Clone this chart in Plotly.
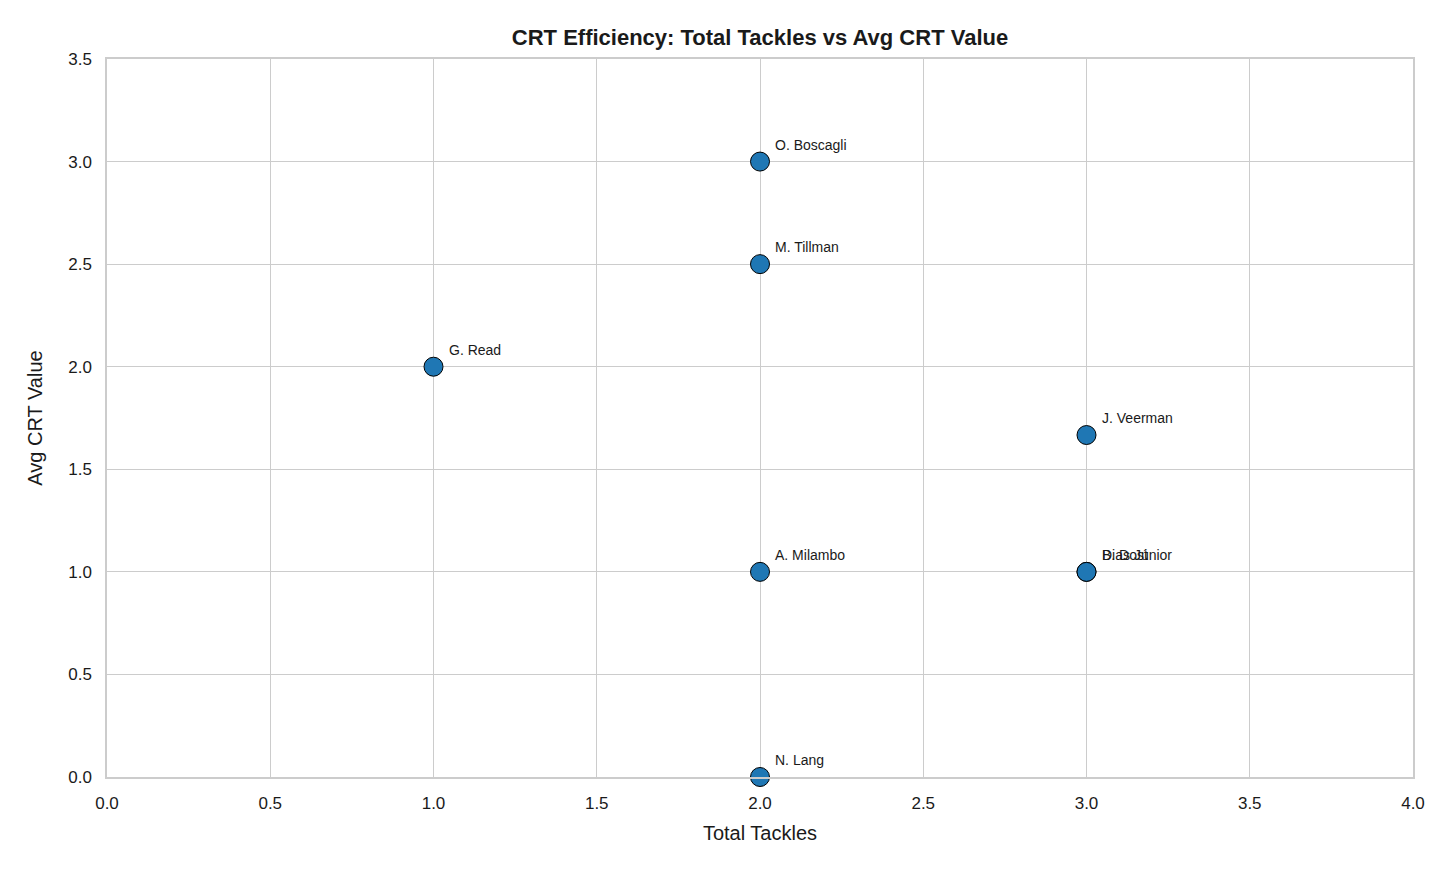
import plotly.graph_objects as go

players = ["O. Boscagli", "M. Tillman", "G. Read", "J. Veerman", "A. Milambo",
           "Dias Júnior", "B. Dost", "N. Lang"]
total_tackles = [2, 2, 1, 3, 2, 3, 3, 2]
avg_crt = [3.0, 2.5, 2.0, 1.667, 1.0, 1.0, 1.0, 0.0]

x_ticks = [0, 0.5, 1, 1.5, 2, 2.5, 3, 3.5, 4]
y_ticks = [0, 0.5, 1, 1.5, 2, 2.5, 3, 3.5]

FONT = "Liberation Sans, Arial, sans-serif"

fig = go.Figure()
fig.add_trace(go.Scatter(
    x=total_tackles, y=avg_crt, mode="markers",
    marker=dict(size=19, color="#1f77b4", line=dict(color="black", width=1)),
    cliponaxis=False, showlegend=False,
))

for name, xv, yv in zip(players, total_tackles, avg_crt):
    fig.add_annotation(x=xv, y=yv, xref="x", yref="y", text=name, showarrow=False,
                       xanchor="left", yanchor="bottom", xshift=13, yshift=7,
                       font=dict(size=14, color="#1a1a1a", family=FONT))

axis_common = dict(showgrid=True, gridcolor="#cccccc", gridwidth=1.3,
                   showline=True, linecolor="#cccccc", linewidth=1.5, mirror=True,
                   zeroline=False, ticks="", ticklabelstandoff=10,
                   tickfont=dict(size=17, color="#1a1a1a", family=FONT))

fig.update_xaxes(range=[0, 4], tickvals=x_ticks, ticktext=[f"{v:.1f}" for v in x_ticks],
                 title=dict(text="Total Tackles", font=dict(size=20, color="#1a1a1a", family=FONT), standoff=14),
                 **axis_common)
fig.update_yaxes(range=[0, 3.5], tickvals=y_ticks, ticktext=[f"{v:.1f}" for v in y_ticks],
                 title=dict(text="Avg CRT Value", font=dict(size=20, color="#1a1a1a", family=FONT), standoff=20),
                 **axis_common)

fig.update_layout(
    width=1440, height=858,
    margin=dict(l=99, r=35, t=51, b=89),
    plot_bgcolor="white", paper_bgcolor="white",
    font=dict(family=FONT, color="#1a1a1a"),
    title=dict(text="<b>CRT Efficiency: Total Tackles vs Avg CRT Value</b>",
               x=0.5, xanchor="center", xref="paper", y=1 - 29/858, yanchor="middle",
               font=dict(size=22, color="#1a1a1a", family=FONT)),
)

fig.write_html("out.html")
